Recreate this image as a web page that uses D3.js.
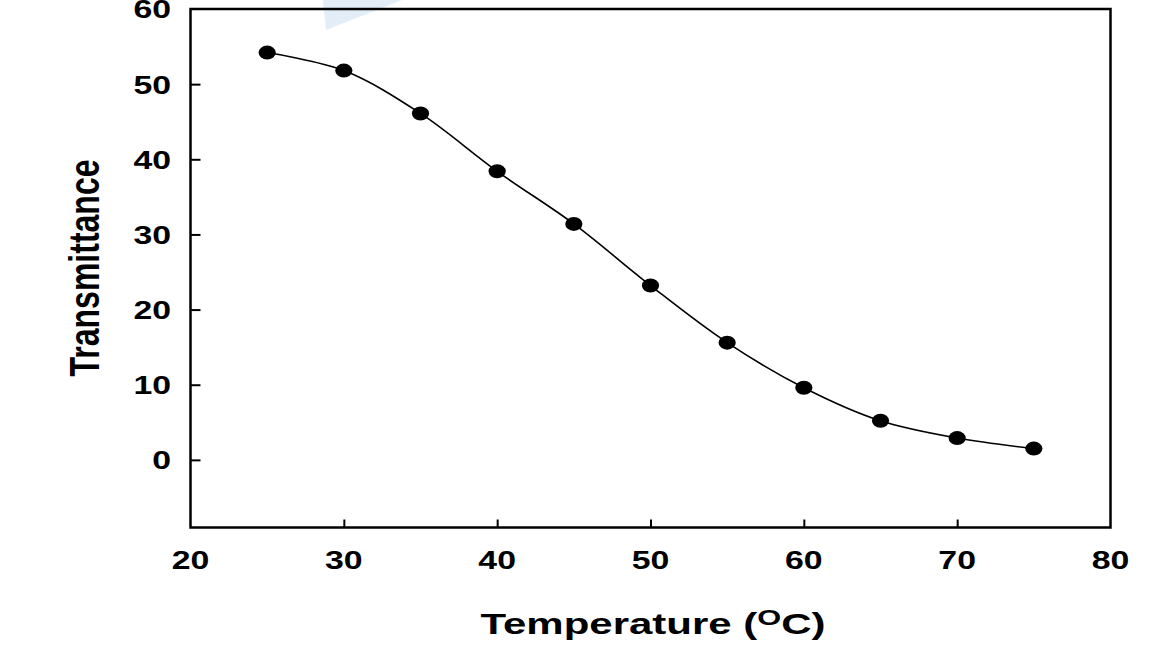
<!DOCTYPE html>
<html>
<head>
<meta charset="utf-8">
<script src="https://cdn.jsdelivr.net/npm/d3@7"></script>
<style>
  html, body { margin: 0; padding: 0; background: #fff; }
  svg { display: block; }
  text { font-family: "Liberation Sans", Arial, sans-serif; font-weight: bold; fill: #000; }
</style>
</head>
<body>
<svg id="chart" width="1159" height="657"></svg>
<script>
// ---- data ----
const temperature = [25, 30, 35, 40, 45, 50, 55, 60, 65, 70, 75];
const transmittance = [54.2, 51.8, 46.1, 38.4, 31.4, 23.2, 15.6, 9.6, 5.2, 2.9, 1.5];
const xTicks = [20, 30, 40, 50, 60, 70, 80];
const yTicks = [0, 10, 20, 30, 40, 50, 60];
const xTitle = "Temperature (";
const xTitleSup = "O";
const xTitleEnd = "C)";
const yTitle = "Transmittance";

// ---- layout ----
const svg = d3.select("#chart");
const pLeft = 190.5, pRight = 1110.5, pTop = 9, pBottom = 527.5;
const stretch = 1.3;

const x = d3.scaleLinear().domain([20, 80]).range([pLeft, pRight]);
const y = d3.scaleLinear().domain([-9, 60]).range([pBottom, pTop]);

// faint watermark remnant
svg.append("path")
  .attr("d", "M323,0 L402,0 L326,30 Z")
  .attr("fill", "#dbe8f5").attr("opacity", 0.8);

// inner ticks via axes
const yAxis = d3.axisLeft(y).tickValues(yTicks.filter(v => v > -9 && v < 60))
  .tickSize(-10).tickFormat("");
const gy = svg.append("g").attr("transform", `translate(${pLeft},0)`).call(yAxis);
gy.select(".domain").remove();
gy.selectAll(".tick line").attr("stroke", "#000").attr("stroke-width", 2);

const xAxis = d3.axisBottom(x).tickValues(xTicks.filter(v => v > 20 && v < 80))
  .tickSize(-8).tickFormat("");
const gx = svg.append("g").attr("transform", `translate(0,${pBottom})`).call(xAxis);
gx.select(".domain").remove();
gx.selectAll(".tick line").attr("stroke", "#000").attr("stroke-width", 2);

// frame
svg.append("rect")
  .attr("x", pLeft).attr("y", pTop)
  .attr("width", pRight - pLeft).attr("height", pBottom - pTop)
  .attr("fill", "none").attr("stroke", "#000").attr("stroke-width", 2.5);

// y tick labels
svg.append("g").selectAll("g").data(yTicks).join("g")
  .attr("transform", d => `translate(171,${y(d)}) scale(${stretch},1)`)
  .append("text")
  .attr("text-anchor", "end").attr("dy", "0.36em")
  .style("font-size", "26px")
  .text(d => d);

// x tick labels
svg.append("g").selectAll("g").data(xTicks).join("g")
  .attr("transform", d => `translate(${x(d)},568.5) scale(${stretch},1)`)
  .append("text")
  .attr("text-anchor", "middle")
  .style("font-size", "26px")
  .text(d => d);

// x title
const xt = svg.append("g").attr("transform", `translate(653,634) scale(1.4,1)`)
  .append("text").attr("text-anchor", "middle").style("font-size", "30px");
xt.append("tspan").text(xTitle);
xt.append("tspan").attr("dy", -9).style("font-size", "22px").text(xTitleSup);
xt.append("tspan").attr("dy", 9).text(xTitleEnd);

// y title
svg.append("g").attr("transform", `translate(99,268) scale(${stretch},1) rotate(-90)`)
  .append("text").attr("text-anchor", "middle").style("font-size", "32px")
  .text(yTitle);

// line
const data = temperature.map((t, i) => ({ t, v: transmittance[i] }));
svg.append("path")
  .datum(data)
  .attr("fill", "none").attr("stroke", "#000").attr("stroke-width", 1.6)
  .attr("d", d3.line().x(d => x(d.t)).y(d => y(d.v)).curve(d3.curveCatmullRom.alpha(0.5)));

// markers
svg.append("g").selectAll("ellipse").data(data).join("ellipse")
  .attr("cx", d => x(d.t)).attr("cy", d => y(d.v))
  .attr("rx", 8.6).attr("ry", 7)
  .attr("fill", "#000");
</script>
</body>
</html>
